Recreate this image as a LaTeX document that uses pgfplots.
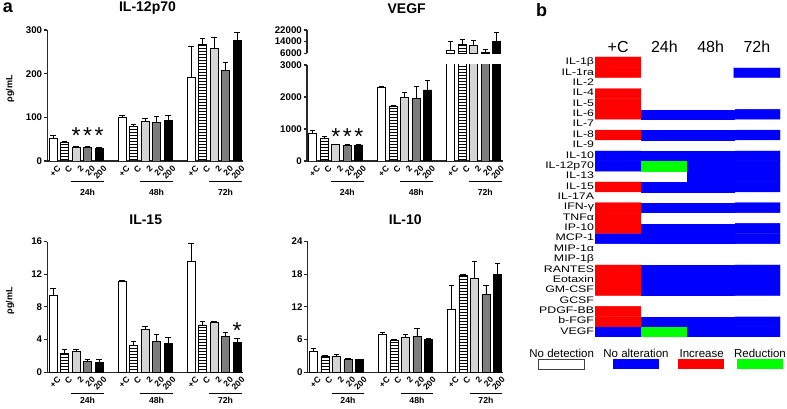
\documentclass[border=0pt]{standalone}
\usepackage{fontspec}
\setmainfont{Liberation Sans}
\newfontfamily\rowfont[FakeStretch=1.3]{Liberation Sans}
\usepackage{pgfplots}
\pgfplotsset{compat=1.18}
\usetikzlibrary{patterns}
\definecolor{lgray}{RGB}{212,212,212}
\definecolor{mgray}{RGB}{125,125,125}
\definecolor{axcol}{RGB}{40,40,40}
\definecolor{hblue}{RGB}{0,0,255}
\definecolor{hred}{RGB}{255,0,0}
\definecolor{hgreen}{RGB}{0,255,0}

\tikzset{mystar/.style={anchor=base, yshift=-13.5pt, inner sep=0pt, font=\fontsize{23}{23}\selectfont}}
\pgfplotsset{
  barpanel/.style={
    scale only axis, width=195.5pt,
    xmin=-0.5, xmax=16.5,
    axis lines*=left,
    axis line style={line width=1.3pt, axcol},
    clip mode=individual,
    ybar, bar width=0.7,
    xtick={0,1,2,3,4,6,7,8,9,10,12,13,14,15,16},
    xticklabels={+C,C,2,20,200,+C,C,2,20,200,+C,C,2,20,200},
    x tick style={draw=none},
    xticklabel style={rotate=45, anchor=north east, inner sep=0pt, xshift=2.5pt, yshift=-3pt, font=\bfseries\fontsize{8.5}{8.5}\selectfont},
    ytick pos=left, tick align=outside, major tick length=3.5pt,
    y tick style={line width=1.1pt, axcol},
    yticklabel style={font=\bfseries\fontsize{9.7}{10}\selectfont, inner sep=1.5pt},
    scaled y ticks=false,
    /pgf/number format/assume math mode=true,
    /pgf/number format/set thousands separator={},
    error bars/y dir=plus, error bars/y explicit,
    error bars/error bar style={line width=0.9pt, black},
    error bars/error mark options={rotate=90, mark size=2.6pt, line width=0.9pt, black},
  },
  s0/.style={bar shift=0pt, draw=black, line width=0.8pt, fill=white},
  s1/.style={bar shift=0pt, draw=black, line width=0.8pt, fill=white, pattern=horizontal lines, pattern color=black},
  s2/.style={bar shift=0pt, draw=black, line width=0.8pt, fill=lgray},
  s3/.style={bar shift=0pt, draw=black, line width=0.8pt, fill=mgray},
  s4/.style={bar shift=0pt, draw=black, line width=0.8pt, fill=black},
}
\newcommand{\grpmarks}[1]{%
  \draw[line width=1pt] ([yshift=-21pt]axis cs:1.57,0) -- ([yshift=-21pt]axis cs:4.43,0);
  \draw[line width=1pt] ([yshift=-21pt]axis cs:7.57,0) -- ([yshift=-21pt]axis cs:10.43,0);
  \draw[line width=1pt] ([yshift=-21pt]axis cs:13.57,0) -- ([yshift=-21pt]axis cs:16.43,0);
  \node[font=\bfseries\fontsize{8.7}{9}\selectfont] at ([yshift=-#1]axis cs:3,0) {24h};
  \node[font=\bfseries\fontsize{8.7}{9}\selectfont] at ([yshift=-#1]axis cs:9,0) {48h};
  \node[font=\bfseries\fontsize{8.7}{9}\selectfont] at ([yshift=-#1]axis cs:15,0) {72h};
}

\begin{document}
\begin{tikzpicture}
\useasboundingbox (0,0) rectangle (787pt,409pt);

% ---------- IL-12p70 ----------
\begin{axis}[barpanel, at={(47.3pt,248pt)}, anchor=south west, height=131pt,
  ymin=0, ymax=300, ytick={0,100,200,300}]
\addplot[s0] coordinates {(0,52.7) +- (0,6.8) (6,100) +- (0,4.6) (12,190.8) +- (0,72.6)};
\addplot[s1] coordinates {(1,42.7) +- (0,1.6) (7,79.4) +- (0,3.8) (13,266.4) +- (0,13.6)};
\addplot[s2] coordinates {(2,32) +- (0,2.4) (8,91.6) +- (0,5.4) (14,258) +- (0,25)};
\addplot[s3] coordinates {(3,30.5) +- (0,3.1) (9,87.8) +- (0,14.2) (15,207) +- (0,18)};
\addplot[s4] coordinates {(4,29) +- (0,1.5) (10,92.4) +- (0,12.2) (16,276) +- (0,19)};
\node[mystar] at (axis cs:2,71) {*};
\node[mystar] at (axis cs:3,71) {*};
\node[mystar] at (axis cs:4,71) {*};
\grpmarks{31pt}
\end{axis}

% ---------- VEGF lower ----------
\begin{axis}[barpanel, at={(307pt,248pt)}, anchor=south west, height=96pt,
  ymin=0, ymax=3000, ytick={0,1000,2000,3000}]
\addplot[s0] coordinates {(0,865) +- (0,105) (6,2300) +- (0,30) (12,8300) +- (0,5700)};
\addplot[s1] coordinates {(1,708) +- (0,72) (7,1720) +- (0,30) (13,12200) +- (0,3400)};
\addplot[s2] coordinates {(2,510) +- (0,20) (8,1980) +- (0,170) (14,11700) +- (0,3000)};
\addplot[s3] coordinates {(3,480) +- (0,30) (9,1950) +- (0,390) (15,6700) +- (0,1600)};
\addplot[s4] coordinates {(4,500) +- (0,20) (10,2220) +- (0,310) (16,14300) +- (0,5700)};
\node[mystar] at (axis cs:2,947) {*};
\node[mystar] at (axis cs:3,947) {*};
\node[mystar] at (axis cs:4,947) {*};
\grpmarks{31pt}
\end{axis}

% ---------- VEGF upper (broken axis, 72 h bars) ----------
\begin{axis}[barpanel, at={(307pt,355.7pt)}, anchor=south west, height=23.3pt,
  ymin=6000, ymax=22000, ytick={6000,14000,22000}, hide x axis, clip mode=global]
\addplot[s0] coordinates {(12,8300) +- (0,5700)};
\addplot[s1] coordinates {(13,12200) +- (0,3400)};
\addplot[s2] coordinates {(14,11700) +- (0,3000)};
\addplot[s3] coordinates {(15,6700) +- (0,1600)};
\addplot[s4] coordinates {(16,14300) +- (0,5700)};
\end{axis}

% ---------- IL-15 ----------
\begin{axis}[barpanel, at={(47.3pt,36.7pt)}, anchor=south west, height=130.7pt,
  ymin=0, ymax=16, ytick={0,4,8,12,16}]
\addplot[s0] coordinates {(0,9.4) +- (0,0.9) (6,11.1) +- (0,0.2) (12,13.6) +- (0,2.2)};
\addplot[s1] coordinates {(1,2.3) +- (0,0.55) (7,3.3) +- (0,0.45) (13,5.8) +- (0,0.4)};
\addplot[s2] coordinates {(2,2.5) +- (0,0.3) (8,5.2) +- (0,0.4) (14,6.1) +- (0,0.08)};
\addplot[s3] coordinates {(3,1.3) +- (0,0.25) (9,3.75) +- (0,0.85) (15,4.4) +- (0,0.5)};
\addplot[s4] coordinates {(4,1.25) +- (0,0.3) (10,3.5) +- (0,0.8) (16,3.6) +- (0,0.5)};
\node[mystar] at (axis cs:16,5.8) {*};
\grpmarks{28pt}
\end{axis}

% ---------- IL-10 ----------
\begin{axis}[barpanel, at={(307.7pt,36.7pt)}, anchor=south west, height=130.7pt,
  ymin=0, ymax=24, ytick={0,6,12,18,24}]
\addplot[s0] coordinates {(0,3.9) +- (0,0.4) (6,7.0) +- (0,0.4) (12,11.6) +- (0,4.3)};
\addplot[s1] coordinates {(1,3.0) +- (0,0.1) (7,5.9) +- (0,0.2) (13,17.8) +- (0,0.15)};
\addplot[s2] coordinates {(2,2.9) +- (0,0.3) (8,6.4) +- (0,0.5) (14,17.2) +- (0,3.2)};
\addplot[s3] coordinates {(3,2.3) +- (0,0.2) (9,6.6) +- (0,1.4) (15,14.3) +- (0,1.7)};
\addplot[s4] coordinates {(4,2.3) +- (0,0.15) (10,6.05) +- (0,0.15) (16,18.0) +- (0,1.9)};
\grpmarks{28pt}
\end{axis}

% ---------- heatmap (panel b) ----------
\begin{axis}[at={(595pt,72pt)}, anchor=south west, scale only axis,
  width=185pt, height=280pt,
  xmin=-0.5, xmax=3.5, ymin=-0.5, ymax=26.5,
  axis x line*=top, axis y line*=left,
  axis line style={draw=none}, tick style={draw=none},
  xtick={0,1,2,3}, xticklabels={+C,24h,48h,72h},
  xticklabel style={anchor=base, yshift=4pt, font=\fontsize{16}{16}\selectfont},
  ytick={0,...,26},
  yticklabels={VEGF,b-FGF,PDGF-BB,GCSF,GM-CSF,Eotaxin,RANTES,MIP-1β,MIP-1α,MCP-1,IP-10,TNFα,IFN-γ,IL-17A,IL-15,IL-13,IL-12p70,IL-10,IL-9,IL-8,IL-7,IL-6,IL-5,IL-4,IL-2,IL-1ra,IL-1β},
  yticklabel style={font=\rowfont\fontsize{9.5}{9.5}\selectfont, inner sep=0.8pt, text height=6pt, text depth=1pt},
  colormap={cat}{rgb255(0cm)=(255,255,255) rgb255(1cm)=(0,0,255) rgb255(2cm)=(255,0,0) rgb255(3cm)=(0,255,0)},
  point meta min=0, point meta max=3,
]
\addplot[matrix plot*, mesh/cols=4, point meta=explicit] table[meta=c] {
x y c
0 0 1
1 0 3
2 0 1
3 0 1
0 1 2
1 1 1
2 1 1
3 1 1
0 2 2
1 2 0
2 2 0
3 2 0
0 3 0
1 3 0
2 3 0
3 3 0
0 4 2
1 4 1
2 4 1
3 4 1
0 5 2
1 5 1
2 5 1
3 5 1
0 6 2
1 6 1
2 6 1
3 6 1
0 7 0
1 7 0
2 7 0
3 7 0
0 8 0
1 8 0
2 8 0
3 8 0
0 9 1
1 9 1
2 9 1
3 9 1
0 10 2
1 10 1
2 10 1
3 10 1
0 11 2
1 11 0
2 11 0
3 11 0
0 12 2
1 12 1
2 12 1
3 12 1
0 13 0
1 13 0
2 13 0
3 13 0
0 14 2
1 14 1
2 14 1
3 14 1
0 15 0
1 15 0
2 15 1
3 15 1
0 16 1
1 16 3
2 16 1
3 16 1
0 17 1
1 17 1
2 17 1
3 17 1
0 18 0
1 18 0
2 18 0
3 18 0
0 19 2
1 19 1
2 19 1
3 19 1
0 20 0
1 20 0
2 20 0
3 20 0
0 21 2
1 21 1
2 21 1
3 21 1
0 22 2
1 22 0
2 22 0
3 22 0
0 23 2
1 23 0
2 23 0
3 23 0
0 24 0
1 24 0
2 24 0
3 24 0
0 25 2
1 25 0
2 25 0
3 25 1
0 26 2
1 26 0
2 26 0
3 26 0
};
\end{axis}

% ---------- titles, labels ----------
\node[font=\bfseries\fontsize{18}{18}\selectfont] at (8pt,401pt) {a};
\node[font=\bfseries\fontsize{18}{18}\selectfont] at (541.7pt,399pt) {b};
\node[font=\bfseries\fontsize{14}{14}\selectfont] at (147.5pt,401pt) {IL-12p70};
\node[font=\bfseries\fontsize{14}{14}\selectfont] at (406.7pt,400.3pt) {VEGF};
\node[font=\bfseries\fontsize{14}{14}\selectfont] at (145.7pt,189pt) {IL-15};
\node[font=\bfseries\fontsize{14}{14}\selectfont] at (405.3pt,189pt) {IL-10};
\node[rotate=90, font=\bfseries\fontsize{9}{9}\selectfont] at (10pt,320pt) {ρg/mL};
\node[rotate=90, font=\bfseries\fontsize{9}{9}\selectfont] at (10pt,108pt) {ρg/mL};

% ---------- legend of panel b ----------
\node[font=\fontsize{11.5}{12}\selectfont] at (561.7pt,55.7pt) {No detection};
\node[font=\fontsize{11.5}{12}\selectfont] at (636pt,55.7pt) {No alteration};
\node[font=\fontsize{11.5}{12}\selectfont] at (701.7pt,55.7pt) {Increase};
\node[font=\fontsize{11.5}{12}\selectfont] at (760pt,55.7pt) {Reduction};
\draw[black!75, line width=0.7pt, fill=white] (538pt,40pt) rectangle (584pt,49.5pt);
\fill[hblue] (613pt,40pt) rectangle (659pt,49.5pt);
\fill[hred] (678pt,40pt) rectangle (724pt,49.5pt);
\fill[hgreen] (737pt,40pt) rectangle (783pt,49.5pt);
\end{tikzpicture}
\end{document}
